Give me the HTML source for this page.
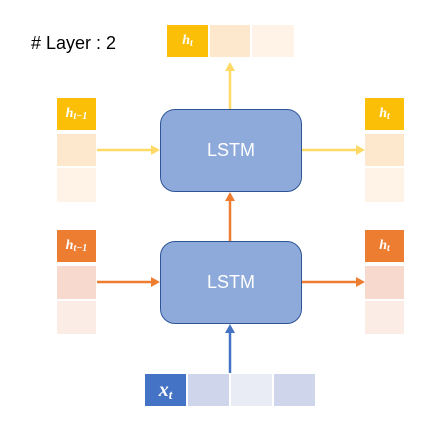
<!DOCTYPE html>
<html><head><style>
body{margin:0;background:#fff;width:434px;height:431px;overflow:hidden;position:relative;font-family:"Liberation Sans",sans-serif}
.c{position:absolute;display:flex;align-items:center;justify-content:center;color:#fff;font-family:"Liberation Serif",serif;font-weight:bold;font-style:italic;font-size:14px;line-height:1}
.c sub{font-size:10px;vertical-align:baseline;position:relative;top:3px}
.l{position:absolute;background:#8eaadb;border:1px solid #2f5597;border-radius:15px;box-sizing:border-box;color:#fff;font-size:18px;display:flex;align-items:center;justify-content:center}
</style></head><body>
<div style="position:absolute;left:31px;top:33px;font-size:18px;color:#000">#&nbsp;Layer&nbsp;:&nbsp;2</div>
<div class="c" style="left:167px;top:25px;width:41px;height:32px;background:#fbbf07">h<sub>t</sub></div>
<div class="c" style="left:210px;top:25px;width:40px;height:32px;background:#fde7cd"></div>
<div class="c" style="left:252px;top:25px;width:42px;height:32px;background:#fef3e6"></div>

<div class="c" style="left:57px;top:98px;width:39px;height:32px;background:#fbbf07">h<sub>t−1</sub></div>
<div class="c" style="left:57px;top:134px;width:39px;height:32px;background:#fde7cd"></div>
<div class="c" style="left:57px;top:168px;width:39px;height:34px;background:#fef3e6"></div>
<div class="c" style="left:365px;top:98px;width:39px;height:32px;background:#fbbf07">h<sub>t</sub></div>
<div class="c" style="left:365px;top:134px;width:39px;height:32px;background:#fde7cd"></div>
<div class="c" style="left:365px;top:168px;width:39px;height:34px;background:#fef3e6"></div>

<div class="c" style="left:57px;top:230px;width:39px;height:32px;background:#ed7d31">h<sub>t−1</sub></div>
<div class="c" style="left:57px;top:266px;width:39px;height:33px;background:#f8d9cd"></div>
<div class="c" style="left:57px;top:301px;width:39px;height:33px;background:#fbece6"></div>
<div class="c" style="left:365px;top:230px;width:39px;height:32px;background:#ed7d31">h<sub>t</sub></div>
<div class="c" style="left:365px;top:266px;width:39px;height:33px;background:#f8d9cd"></div>
<div class="c" style="left:365px;top:301px;width:39px;height:33px;background:#fbece6"></div>

<div class="c" style="left:145px;top:374px;width:41px;height:32px;background:#4472c4;font-size:20px">x<sub style="font-size:13px;top:4px">t</sub></div>
<div class="c" style="left:188px;top:374px;width:41px;height:32px;background:#cfd5ea"></div>
<div class="c" style="left:231px;top:374px;width:41px;height:32px;background:#e9ebf5"></div>
<div class="c" style="left:274px;top:374px;width:41px;height:32px;background:#cfd5ea"></div>

<svg width="434" height="431" style="position:absolute;left:0;top:0">
<g stroke-width="2.5">
<line x1="230" y1="109" x2="230" y2="70" stroke="#ffd966"/><polygon points="230,62 225,71 235,71" fill="#ffd966"/>
<line x1="97" y1="150" x2="152" y2="150" stroke="#ffd966"/><polygon points="160,150 151,145 151,155" fill="#ffd966"/>
<line x1="302" y1="150" x2="357" y2="150" stroke="#ffd966"/><polygon points="365,150 356,145 356,155" fill="#ffd966"/>
<line x1="230" y1="241" x2="230" y2="200" stroke="#ed7d31"/><polygon points="230,192 225,201 235,201" fill="#ed7d31"/>
<line x1="97" y1="282" x2="152" y2="282" stroke="#ed7d31"/><polygon points="160,282 151,277 151,287" fill="#ed7d31"/>
<line x1="302" y1="282" x2="357" y2="282" stroke="#ed7d31"/><polygon points="365,282 356,277 356,287" fill="#ed7d31"/>
<line x1="230" y1="373" x2="230" y2="332" stroke="#4472c4"/><polygon points="230,324 225,333 235,333" fill="#4472c4"/>
</g></svg>
<div class="l" style="left:160px;top:109px;width:142px;height:83px">LSTM</div>
<div class="l" style="left:160px;top:241px;width:142px;height:83px">LSTM</div>
</body></html>
